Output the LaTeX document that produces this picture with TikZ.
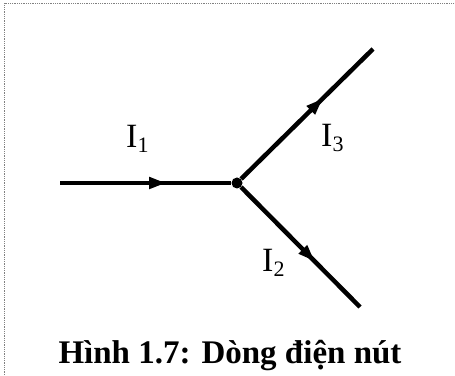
\documentclass[tikz,border=0pt]{standalone}
\usepackage{fontspec}
\setmainfont{Liberation Serif}
\usetikzlibrary{arrows.meta,decorations.markings}
\newcommand{\isub}[1]{\raisebox{-5pt}{\fontsize{22}{22}\selectfont #1}}

\begin{document}
\begin{tikzpicture}[
  x=1pt,y=1pt,
  wire/.style={line width=4.5pt, postaction={decorate},
    decoration={markings, mark=at position 0.62 with {\arrow{Triangle[length=17pt,width=11pt]}}}},
  junc/.style={circle, fill, inner sep=0pt, minimum size=11pt},
  lab/.style={font=\fontsize{34}{34}\selectfont, inner sep=0pt, anchor=base west},
  captext/.style={font=\fontsize{33}{33}\selectfont\bfseries, inner sep=0pt, anchor=base},
  frame/.style={gray, line width=0.8pt, densely dotted}
]
\useasboundingbox (0,0) rectangle (455,375);
\draw[frame] (4,0) -- (4,372) -- (455,372);
\coordinate (in) at (60,192);
\node[junc] (j) at (237,192) {};
\coordinate (up) at (373,326);
\coordinate (down) at (360,68);
\draw[wire] (in) -- (j);
\draw[wire] (j) -- (up);
\draw[wire] (j) -- (down);
\node[lab] (i1) at (126,227) {I\isub{1}};
\node[lab] (i3) at (321,228) {I\isub{3}};
\node[lab] (i2) at (262,103) {I\isub{2}};
\node[captext] (title) at (230,12) {Hình 1.7: Dòng điện nút};
\end{tikzpicture}
\end{document}
